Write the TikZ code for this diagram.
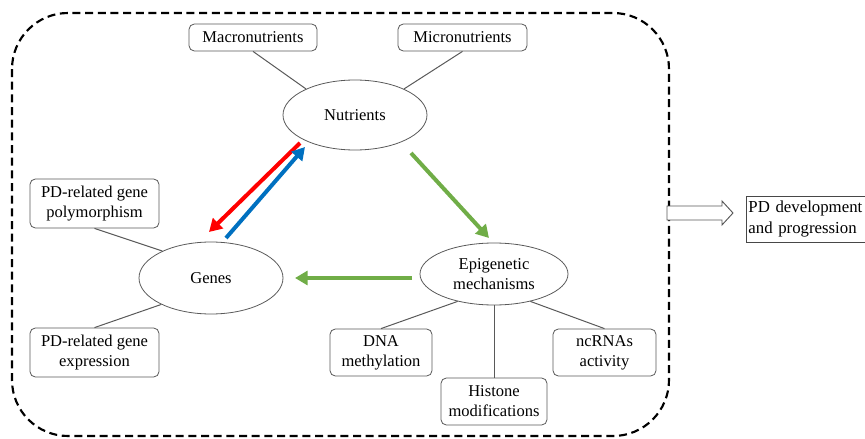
\documentclass[tikz,border=0pt]{standalone}
\usepackage{fontspec}
\setmainfont{Liberation Serif}
\usetikzlibrary{shapes.geometric,arrows.meta}
\definecolor{gline}{HTML}{595959}
\definecolor{ggreen}{HTML}{70AD47}
\definecolor{bblue}{HTML}{0070C0}
\definecolor{rred}{HTML}{FF0000}
\begin{document}
\begin{tikzpicture}[x=0.75pt,y=-0.75pt,
  every node/.style={font=\fontsize{12.4}{15}\selectfont, align=center, inner sep=0pt},
  box/.style={draw=gline, rounded corners=4pt, line width=0.6pt},
  ell/.style={draw=gline, ellipse, line width=0.6pt},
  link/.style={draw=gline, line width=0.75pt},
  fat/.style={line width=3pt, -{Triangle[length=9.5pt,width=10.5pt]}},
]
\useasboundingbox (0,0) rectangle (865,439);
% frame
\draw[line width=1.6pt, dash pattern=on 6pt off 3.5pt, rounded corners=42pt] (12,13) rectangle (669,436);

% nodes
\node[ell, minimum width=108pt, minimum height=52.5pt] (nut) at (355,115) {Nutrients};
\node[ell, minimum width=108pt, minimum height=54pt] (gen) at (211,278) {Genes};
\node[ell, minimum width=111pt, minimum height=46.5pt] (epi) at (494,274) {Epigenetic\\mechanisms};

\node[box, minimum width=96pt, minimum height=20.25pt] (mac) at (253,37.5) {Macronutrients};
\node[box, minimum width=96.75pt, minimum height=20.25pt] (mic) at (462.5,37.5) {Micronutrients};
\node[box, minimum width=96.75pt, minimum height=36.75pt] (poly) at (94.5,203.5) {PD-related gene\\polymorphism};
\node[box, minimum width=96.75pt, minimum height=36.75pt] (expr) at (94.5,352.5) {PD-related gene\\expression};
\node[box, minimum width=76.5pt, minimum height=35.25pt] (dna) at (381,352.5) {DNA\\methylation};
\node[box, minimum width=77.25pt, minimum height=35.25pt] (nc) at (604.5,352.5) {ncRNAs\\activity};
\node[box, minimum width=79.5pt, minimum height=35.25pt] (his) at (494,401.5) {Histone\\modifications};
\node[draw=gline!80!black, line width=0.7pt, minimum height=34.5pt, text width=100pt, align=left,
      font=\fontsize{12.6}{16}\selectfont, anchor=west, inner xsep=1.5pt] (pd) at (746,219) {PD development\\and progression};

% links
\draw[link] (mac.south) -- (nut.152);
\draw[link] (mic.south) -- (nut.28);
\draw[link] (poly.south) -- (gen.151);
\draw[link] (expr.north) -- (gen.208);
\draw[link] (epi.-143) -- (dna.north);
\draw[link] (epi.south) -- (his.north);
\draw[link] (epi.-37) -- (nc.north);

% arrows
\coordinate (r1) at (300,143);
\coordinate (r2) at (209,232);
\coordinate (b1) at (226,238);
\coordinate (b2) at (305,147);
\coordinate (g1) at (411,153);
\coordinate (g2) at (489,238);
\coordinate (g3) at (412,278);
\coordinate (g4) at (295,278);
\draw[fat, color=rred] (r1) -- (r2);
\draw[fat, color=bblue] (b1) -- (b2);
\draw[fat, color=ggreen] (g1) -- (g2);
\draw[fat, color=ggreen] (g3) -- (g4);

% hollow arrow
\draw[gline, line width=0.7pt, fill=white] (667,206) -- (722,206) -- (722,201) -- (733,213) -- (722,225) -- (722,220) -- (667,220) -- cycle;
\end{tikzpicture}
\end{document}
